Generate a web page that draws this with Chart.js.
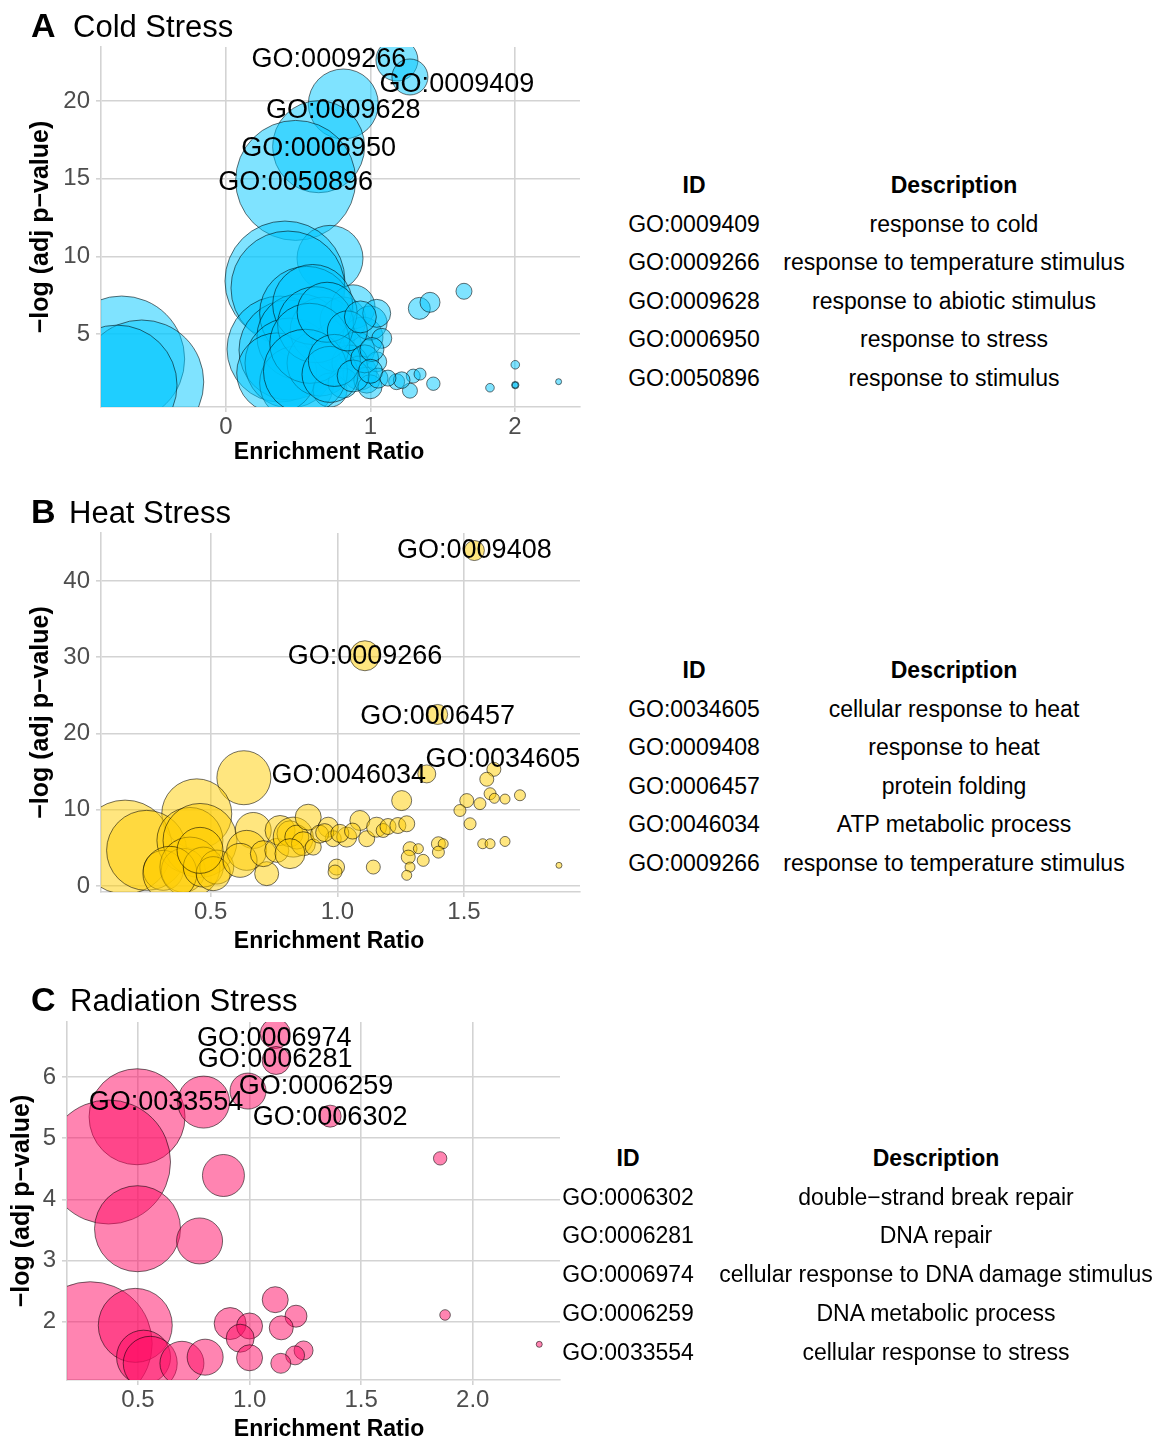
<!DOCTYPE html>
<html>
<head>
<meta charset="utf-8">
<script src="https://cdn.jsdelivr.net/npm/chart.js@4.4.1/dist/chart.umd.min.js"></script>
<style>
  body { margin: 0; background: #fff; font-family: 'Liberation Sans', Arial, Helvetica, sans-serif; }
  #page { position: relative; width: 1161px; height: 1441px; overflow: hidden; }
  canvas { position: absolute; left: 0; }
  .tag { position: absolute; font-size: 34px; font-weight: bold; line-height: 1; }
  .title { position: absolute; font-size: 31px; line-height: 1; }
  .xtitle { position: absolute; left: 329px; font-size: 23px; font-weight: bold; line-height: 1; white-space: nowrap; transform: translate(-50%, -50%); }
  .cell { position: absolute; font-size: 23px; line-height: 1; white-space: nowrap; transform: translate(-50%, -50%); }
  .head { font-weight: bold; }
</style>
</head>
<body>
<div id="page">
  <canvas id="cold" width="600" height="470" style="top:0"></canvas>
  <canvas id="heat" width="600" height="470" style="top:490px"></canvas>
  <canvas id="rad" width="600" height="461" style="top:980px"></canvas>

  <div class="tag" style="left:31px;top:8px">A</div>
  <div class="title" style="left:73px;top:11px">Cold Stress</div>
  <div class="tag" style="left:31px;top:494px">B</div>
  <div class="title" style="left:69px;top:497px">Heat Stress</div>
  <div class="tag" style="left:31px;top:982px">C</div>
  <div class="title" style="left:70px;top:985px">Radiation Stress</div>

  <div class="xtitle" style="top:451px">Enrichment Ratio</div>
  <div class="xtitle" style="top:940px">Enrichment Ratio</div>
  <div class="xtitle" style="top:1428px">Enrichment Ratio</div>
</div>

<script>
/* ─── Panel A: cold stress ─────────────────────────────── */
// first five points are the labelled GO terms
const coldIds = ['GO:0009266', 'GO:0009409', 'GO:0009628', 'GO:0006950', 'GO:0050896'];
const coldX = [1.183, 1.273, 0.812, 0.641, 0.482,
  0.720, 0.408, 0.429, 0.374, 0.436, -0.722, -0.583, -0.754, 0.558, 0.512,
  0.443, 0.489, 0.351, 0.673, 0.651, 0.766, 0.810, 0.879, 0.948, 0.904,
  0.858, 0.997, 0.927, 0.720, 0.810, 1.043, 0.974, 0.997, 1.078, 1.043,
  1.052, 1.338, 1.412, 1.647, 1.181, 1.273, 1.296, 1.343, 1.435, 1.827,
  2.002, 2.002, 2.002, 2.302, 1.216, 1.121, 0.600, 0.620, 0.580, 0.550,
  0.700, 0.720, 0.750, 0.840, 0.880, 0.930, 0.960, 1.010, 1.000];
const coldY = [22.64, 21.55, 19.81, 17.06, 14.89,
  9.87, 8.41, 7.96, 4.03, 3.97, 3.39, 1.91, 1.71, 6.33, 4.82,
  3.13, 1.84, 2.49, 5.25, 3.13, 4.18, 5.90, 6.75, 4.80, 3.97,
  3.13, 5.71, 2.49, 1.39, 1.84, 6.33, 2.03, 1.60, 4.72, 3.21,
  2.16, 6.65, 7.04, 7.75, 1.93, 1.35, 2.29, 2.42, 1.80, 1.54,
  3.02, 1.71, 1.71, 1.93, 2.03, 2.16, 6.90, 5.60, 4.40, 2.60,
  6.40, 2.40, 3.30, 5.20, 2.30, 6.10, 3.40, 4.00, 2.60];
const coldSize = [21, 18, 35, 46, 60,
  33, 60, 57, 53, 50, 63, 62, 60, 47, 43,
  45, 37, 40, 33, 33, 25, 23, 22, 20, 18,
  18, 17, 17, 17, 15, 14, 13, 12, 10, 10,
  10, 11, 10, 8, 8, 7.5, 7, 6, 6.7, 4.3,
  4.3, 3.7, 3, 3, 8.3, 8, 40, 38, 40, 42,
  30, 28, 26, 20, 16, 16, 14, 12, 12];
const coldXTicks = [0, 1, 2];
const coldYTicks = [5, 10, 15, 20];
const coldTableIds = ['GO:0009409', 'GO:0009266', 'GO:0009628', 'GO:0006950', 'GO:0050896'];
const coldTableDesc = ['response to cold', 'response to temperature stimulus',
  'response to abiotic stimulus', 'response to stress', 'response to stimulus'];

/* ─── Panel B: heat stress ─────────────────────────────── */
const heatIds = ['GO:0009408', 'GO:0009266', 'GO:0006457', 'GO:0046034', 'GO:0034605'];
const heatX = [1.541, 1.109, 1.396, 1.353, 1.618,
  0.631, 0.445, 0.162, 0.247, 0.418, 0.458, 0.313, 0.392, 0.418, 0.339,
  0.471, 0.524, 0.510, 0.458, 0.668, 0.642, 0.616, 0.721, 0.708, 0.761,
  0.774, 0.813, 0.826, 0.840, 0.866, 0.885, 0.905, 0.813, 0.964, 0.984,
  0.997, 0.991, 1.089, 1.037, 1.116, 1.155, 1.181, 1.200, 1.239, 1.274,
  1.254, 1.142, 1.287, 1.320, 1.280, 1.287, 1.274, 1.339, 1.399, 1.418,
  1.399, 1.511, 1.484, 1.524, 1.563, 1.590, 1.603, 1.620, 1.662, 1.721,
  1.574, 1.603, 1.662, 1.875, 0.930, 0.950, 1.010, 1.060];
const heatY = [44.0, 30.2, 22.5, 14.7, 15.3,
  14.2, 9.46, 5.10, 4.67, 5.97, 5.97, 2.05, 2.05, 2.48, 1.66,
  2.48, 2.48, 1.62, 4.67, 7.28, 4.67, 3.36, 1.62, 4.24, 4.67,
  7.28, 6.85, 6.41, 6.41, 5.54, 9.02, 5.10, 4.24, 7.71, 6.20,
  2.48, 1.83, 8.59, 6.41, 6.20, 7.71, 7.28, 7.80, 7.93, 8.16,
  11.2, 2.48, 4.89, 4.89, 3.79, 2.48, 1.40, 3.36, 5.54, 5.54,
  4.44, 11.2, 9.9, 8.16, 10.8, 14.0, 12.1, 11.5, 11.4, 11.9,
  5.54, 5.54, 5.84, 2.71, 6.8, 7.0, 6.9, 7.2];
const heatSize = [10, 15, 10, 9, 7,
  27, 35, 47, 40, 33, 37, 20, 22, 30, 27,
  20, 17, 17, 23, 18, 20, 17, 12, 13, 12,
  15, 13, 20, 12, 12, 13, 8, 15, 10, 8,
  8, 7, 10, 10, 8, 10, 7, 8, 8, 8,
  10, 7, 7, 5, 7, 5, 5, 6, 7, 5,
  6, 7, 6, 6, 6, 7, 6, 5, 5, 5.5,
  5, 5, 5, 3, 9, 9, 9, 8];
const heatXTicks = [0.5, 1.0, 1.5];
const heatYTicks = [0, 10, 20, 30, 40];
const heatTableIds = ['GO:0034605', 'GO:0009408', 'GO:0006457', 'GO:0046034', 'GO:0009266'];
const heatTableDesc = ['cellular response to heat', 'response to heat', 'protein folding',
  'ATP metabolic process', 'response to temperature stimulus'];

/* ─── Panel C: radiation stress ────────────────────────── */
const radIds = ['GO:0006974', 'GO:0006281', 'GO:0006259', 'GO:0006302', 'GO:0033554'];
const radX = [1.115, 1.119, 0.993, 1.361, 0.496,
  0.794, 0.368, 0.883, 0.498, 0.776, 1.854, 1.876, 2.298, 0.286, 0.488,
  0.525, 0.555, 0.697, 0.801, 0.913, 1.000, 0.958, 1.000, 1.115, 1.208,
  1.142, 1.242, 1.204, 1.140];
const radY = [6.71, 6.27, 5.77, 5.36, 5.35,
  5.59, 4.61, 4.39, 3.52, 3.32, 4.67, 2.11, 1.63, 1.64, 1.94,
  1.42, 1.32, 1.32, 1.42, 1.97, 1.93, 1.73, 1.41, 2.36, 2.09,
  1.90, 1.53, 1.45, 1.32];
const radSize = [15, 14, 18, 11, 48,
  26, 62, 21, 43, 23, 6.7, 5.3, 3, 62, 37,
  27, 27, 22, 18, 16, 13, 14, 13, 13, 11,
  12, 9.5, 9.5, 10];
const radXTicks = [0.5, 1.0, 1.5, 2.0];
const radYTicks = [2, 3, 4, 5, 6];
const radTableIds = ['GO:0006302', 'GO:0006281', 'GO:0006974', 'GO:0006259', 'GO:0033554'];
const radTableDesc = ['double\u2212strand break repair', 'DNA repair',
  'cellular response to DNA damage stimulus', 'DNA metabolic process', 'cellular response to stress'];

/* ─── shared styling ───────────────────────────────────── */
const FONT = "'Liberation Sans', Arial, Helvetica, sans-serif";
const GRID = '#d3d3d3';
const TICK_COLOR = '#4d4d4d';
const OUTLINE = 'rgba(0, 0, 0, 0.55)';

// GO id labels drawn next to their bubbles
const goLabels = {
  id: 'goLabels',
  afterDatasetsDraw(chart, args, opts) {
    const pts = chart.getDatasetMeta(0).data;
    const ctx = chart.ctx;
    ctx.save();
    ctx.font = '27px ' + FONT;
    ctx.fillStyle = '#000';
    ctx.textAlign = 'center';
    ctx.textBaseline = 'middle';
    opts.ids.forEach((id, i) => {
      const [dx, dy] = opts.nudge[i];
      ctx.fillText(id, pts[i].x + dx, pts[i].y + dy);
    });
    ctx.restore();
  },
};

function makePanel(canvasId, p) {
  const points = p.x.map((x, i) => ({ x, y: p.y[i], r: p.size[i] }));
  const tickFont = { family: FONT, size: 24 };

  return new Chart(document.getElementById(canvasId), {
    type: 'bubble',
    data: {
      datasets: [{
        data: points,
        backgroundColor: p.fill,
        borderColor: OUTLINE,
        borderWidth: 1,
      }],
    },
    options: {
      responsive: false,
      animation: false,
      events: [],
      // bubbles would otherwise push the plot area inwards
      layout: { padding: p.pad, autoPadding: false },
      plugins: {
        legend: { display: false },
        tooltip: { enabled: false },
        goLabels: { ids: p.ids, nudge: p.nudge },
      },
      scales: {
        x: {
          type: 'linear',
          min: p.xMin,
          max: p.xMax,
          afterBuildTicks: s => { s.ticks = p.xTicks.map(value => ({ value })); },
          afterFit: s => { s.height = p.xAxisH; },
          ticks: { callback: v => v.toFixed(p.xDec), color: TICK_COLOR, font: tickFont, padding: 1, maxRotation: 0, autoSkip: false },
          grid: { color: GRID, lineWidth: 1.6, tickLength: 5 },
          border: { color: GRID, width: 1.6 },
          title: { display: false },
        },
        y: {
          type: 'linear',
          min: p.yMin,
          max: p.yMax,
          afterBuildTicks: s => { s.ticks = p.yTicks.map(value => ({ value })); },
          afterFit: s => { s.width = p.yAxisW; },
          ticks: { callback: v => String(v), color: TICK_COLOR, font: tickFont, padding: 6, autoSkip: false },
          grid: { color: GRID, lineWidth: 1.6, tickLength: 5 },
          border: { color: GRID, width: 1.6 },
          title: {
            display: true, text: '\u2212log (adj p\u2212value)', color: '#000',
            font: { family: FONT, size: 25, weight: 'bold', lineHeight: 1 },
            padding: { top: p.yTitlePad, bottom: 0 },
          },
        },
      },
    },
    plugins: [goLabels],
  });
}

function makeTable(ids, desc, idX, descX, headY, rowGap) {
  const page = document.getElementById('page');
  const cell = (text, x, y, bold) => {
    const d = document.createElement('div');
    d.className = bold ? 'cell head' : 'cell';
    d.style.left = x + 'px';
    d.style.top = y + 'px';
    d.textContent = text;
    page.appendChild(d);
  };
  cell('ID', idX, headY, true);
  cell('Description', descX, headY, true);
  ids.forEach((id, i) => {
    const y = headY + rowGap * (i + 1);
    cell(id, idX, y, false);
    cell(desc[i], descX, y, false);
  });
}

makePanel('cold', {
  x: coldX, y: coldY, size: coldSize, ids: coldIds,
  nudge: [[-68, 0], [47, 8], [0, 7], [0, 2], [0, 2]],
  fill: 'rgba(0, 200, 255, 0.5)',
  xMin: -0.865, xMax: 2.45, yMin: 0.3, yMax: 23.48,
  xTicks: coldXTicks, yTicks: coldYTicks, xDec: 0,
  pad: { top: 47, right: 20, left: 0, bottom: 0 },
  xAxisH: 63, yAxisW: 101, yTitlePad: 29,
});

makePanel('heat', {
  x: heatX, y: heatY, size: heatSize, ids: heatIds,
  nudge: [[0, 0], [0, 1], [0, 2], [-78, 2], [9, -10]],
  fill: 'rgba(255, 205, 0, 0.5)',
  xMin: 0.067, xMax: 1.958, yMin: -0.79, yMax: 46.3,
  xTicks: heatXTicks, yTicks: heatYTicks, xDec: 1,
  pad: { top: 43, right: 20, left: 0, bottom: 0 },
  xAxisH: 68, yAxisW: 101, yTitlePad: 29,
});

makePanel('rad', {
  x: radX, y: radY, size: radSize, ids: radIds,
  nudge: [[-1, 5], [-1, -1], [68, -5], [0, 1], [29, -14]],
  fill: 'rgba(255, 10, 100, 0.5)',
  xMin: 0.182, xMax: 2.391, yMin: 1.047, yMax: 6.899,
  xTicks: radXTicks, yTicks: radYTicks, xDec: 1,
  pad: { top: 42, right: 40, left: 0, bottom: 0 },
  xAxisH: 61, yAxisW: 67, yTitlePad: 10,
});

makeTable(coldTableIds, coldTableDesc, 694, 954, 185, 38.6);
makeTable(heatTableIds, heatTableDesc, 694, 954, 670, 38.6);
makeTable(radTableIds, radTableDesc, 628, 936, 1158, 38.7);
</script>
</body>
</html>
